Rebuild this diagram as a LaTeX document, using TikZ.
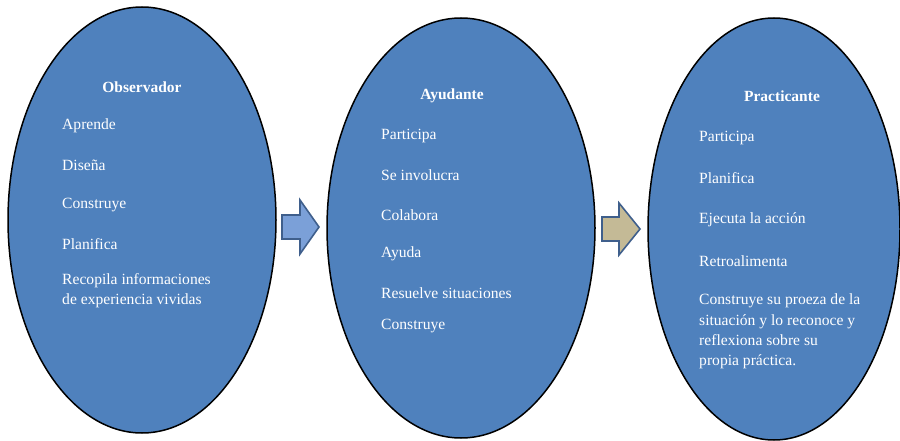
\documentclass[tikz,border=0pt]{standalone}
\usepackage{fontspec}
\setmainfont{Liberation Serif}
\usetikzlibrary{shapes.geometric}
\definecolor{ovalblue}{HTML}{4F81BD}
\definecolor{arrowblue}{HTML}{7BA0D8}
\definecolor{arrowtan}{HTML}{C4BA96}
\definecolor{arrowedge}{HTML}{3F5F8C}
\begin{document}
\begin{tikzpicture}[x=1pt,y=-1pt,
  oval/.style={ellipse, draw=black, line width=1.5pt, fill=ovalblue, inner sep=0pt},
  title/.style={text=white, inner sep=0pt, font=\fontsize{15.5}{20}\selectfont\bfseries},
  item/.style={text=white, anchor=west, inner sep=0pt, align=left, font=\fontsize{15.6}{20.3}\selectfont},
  bigarrow/.style={draw=arrowedge, line width=1.6pt, line join=miter}]
\useasboundingbox (0,0) rectangle (900,441);
\fill[white] (0,0) rectangle (900,441);
% ovals
\node[oval, minimum width=268pt, minimum height=426pt] (o1) at (142,220) {};
\node[oval, minimum width=268pt, minimum height=420pt] (o2) at (461,228) {};
\node[oval, minimum width=252pt, minimum height=422pt] (o3) at (774,229) {};
% arrows
\draw[bigarrow, fill=arrowblue] (282,215) -- (300,215) -- (300,200) -- (319,227) -- (300,254) -- (300,239) -- (282,239) -- cycle;
\draw[bigarrow, fill=arrowtan] (602,217) -- (619,217) -- (619,203) -- (640,229) -- (619,255) -- (619,241) -- (602,241) -- cycle;
% Observador
\node[title] (t1) at (142,87) {Observador};
\node[item] (a1) at (62,126) {Aprende};
\node[item] (a2) at (62,165) {Diseña};
\node[item] (a3) at (62,205) {Construye};
\node[item] (a4) at (62,244) {Planifica};
\node[item] (a5) at (62,290.5) {Recopila informaciones\\de experiencia vividas};
% Ayudante
\node[title] (t2) at (452,96) {Ayudante};
\node[item] (b1) at (381,136) {Participa};
\node[item] (b2) at (381,175) {Se involucra};
\node[item] (b3) at (381,215) {Colabora};
\node[item] (b4) at (381,254) {Ayuda};
\node[item] (b5) at (381,293) {Resuelve situaciones};
\node[item] (b6) at (381,326) {Construye};
% Practicante
\node[title] (t3) at (782,96) {Practicante};
\node[item] (c1) at (699,138) {Participa};
\node[item] (c2) at (699,178) {Planifica};
\node[item] (c3) at (699,220) {Ejecuta la acción};
\node[item] (c4) at (699,261) {Retroalimenta};
\node[item] (c5) at (699,331.5) {Construye su proeza de la\\situación y lo reconoce y\\reflexiona sobre su\\propia práctica.};
\end{tikzpicture}
\end{document}
